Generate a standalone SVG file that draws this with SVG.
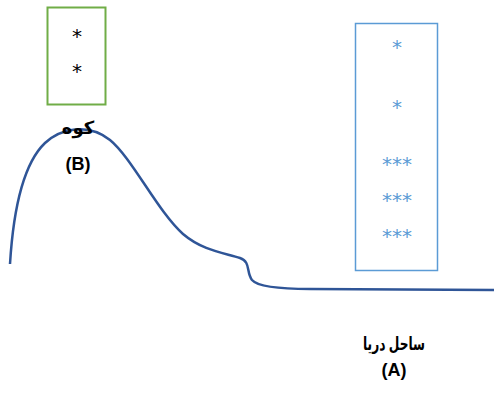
<svg xmlns="http://www.w3.org/2000/svg" width="494" height="395" viewBox="0 0 494 395">
<style>
.t{font-family:"Liberation Sans","DejaVu Sans",sans-serif;font-weight:bold;font-size:18px;fill:#000;text-anchor:middle}
.s{font-family:"DejaVu Sans",sans-serif;font-size:20px;text-anchor:middle}
</style>
<rect width="494" height="395" fill="#fff"/>
<g id="connectors">
<path d="M10,264 C13,215 22,165 45,143 C60,129 88,122 110,140 C132,158 158,212 183,234 C203,251 225,253 240,258 C251,262 246,272 252,280 C258,287 280,289 310,289 L494,290" fill="none" stroke="#2F5597" stroke-width="2.5"/>
</g>
<g id="mountain-box">
<rect x="47.5" y="7.5" width="58" height="97" fill="none" stroke="#70AD47" stroke-width="2"/>
<text class="s" x="77" y="43" fill="#000">*</text>
<text class="s" x="77" y="78" fill="#000">*</text>
</g>
<g id="coast-box">
<rect x="355.5" y="23.5" width="82" height="247" fill="none" stroke="#5B9BD5" stroke-width="1.5"/>
<text class="s" x="397" y="54" fill="#5B9BD5">*</text>
<text class="s" x="397" y="114" fill="#5B9BD5">*</text>
<text class="s" x="397" y="171" fill="#5B9BD5">***</text>
<text class="s" x="397" y="207" fill="#5B9BD5">***</text>
<text class="s" x="397" y="243" fill="#5B9BD5">***</text>
</g>
<g id="mountain-label">
<text class="t" x="78" y="134">کوه</text>
<text class="t" x="78" y="170">(B)</text>
</g>
<g id="coast-label">
<text class="t" x="394" y="350" textLength="62" lengthAdjust="spacingAndGlyphs">ساحل دریا</text>
<text class="t" x="394" y="376">(A)</text>
</g>
</svg>
